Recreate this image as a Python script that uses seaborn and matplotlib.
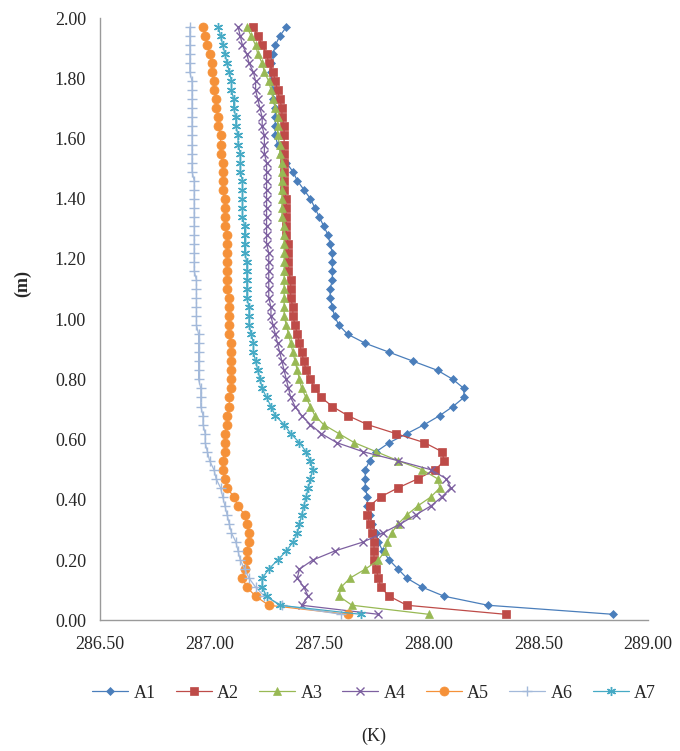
import matplotlib
matplotlib.use("Agg")
import matplotlib.pyplot as plt
import seaborn as sns

# Heights (m), shared by every profile
height = [0.02, 0.05, 0.08, 0.11, 0.14, 0.17, 0.20, 0.23, 0.26, 0.29,
          0.32, 0.35, 0.38, 0.41, 0.44, 0.47, 0.50, 0.53, 0.56, 0.59,
          0.62, 0.65, 0.68, 0.71, 0.74, 0.77, 0.80, 0.83, 0.86, 0.89,
          0.92, 0.95, 0.98, 1.01, 1.04, 1.07, 1.10, 1.13, 1.16, 1.19,
          1.22, 1.25, 1.28, 1.31, 1.34, 1.37, 1.40, 1.43, 1.46, 1.49,
          1.52, 1.55, 1.58, 1.61, 1.64, 1.67, 1.70, 1.73, 1.76, 1.79,
          1.82, 1.85, 1.88, 1.91, 1.94, 1.97]

# Temperature profiles (K)
a1 = [288.84, 288.27, 288.07, 287.97, 287.90, 287.86, 287.82, 287.79, 287.77, 287.76,
      287.74, 287.73, 287.72, 287.72, 287.71, 287.71, 287.71, 287.73, 287.76, 287.82,
      287.90, 287.98, 288.05, 288.11, 288.16, 288.16, 288.11, 288.04, 287.93, 287.82,
      287.71, 287.63, 287.59, 287.57, 287.56, 287.55, 287.55, 287.56, 287.56, 287.56,
      287.56, 287.55, 287.54, 287.52, 287.50, 287.48, 287.46, 287.43, 287.40, 287.38,
      287.35, 287.33, 287.31, 287.30, 287.30, 287.30, 287.30, 287.29, 287.29, 287.28,
      287.28, 287.28, 287.29, 287.30, 287.32, 287.35]
a2 = [288.35, 287.90, 287.82, 287.78, 287.77, 287.76, 287.75, 287.75, 287.75, 287.74,
      287.73, 287.72, 287.73, 287.78, 287.86, 287.95, 288.03, 288.07, 288.06, 287.98,
      287.85, 287.72, 287.63, 287.56, 287.51, 287.48, 287.46, 287.44, 287.43, 287.42,
      287.41, 287.40, 287.39, 287.38, 287.38, 287.37, 287.37, 287.37, 287.36, 287.36,
      287.36, 287.36, 287.35, 287.35, 287.35, 287.35, 287.35, 287.34, 287.34, 287.34,
      287.34, 287.34, 287.34, 287.34, 287.34, 287.33, 287.33, 287.32, 287.31, 287.30,
      287.29, 287.27, 287.26, 287.24, 287.22, 287.20]
a3 = [288.00, 287.65, 287.59, 287.60, 287.64, 287.71, 287.77, 287.80, 287.81, 287.83,
      287.86, 287.90, 287.95, 288.01, 288.05, 288.04, 287.97, 287.86, 287.76, 287.66,
      287.59, 287.52, 287.48, 287.46, 287.44, 287.42, 287.41, 287.40, 287.39, 287.38,
      287.37, 287.36, 287.35, 287.34, 287.34, 287.34, 287.34, 287.34, 287.34, 287.34,
      287.34, 287.34, 287.34, 287.34, 287.33, 287.33, 287.33, 287.33, 287.33, 287.33,
      287.33, 287.32, 287.32, 287.31, 287.31, 287.31, 287.30, 287.29, 287.28, 287.27,
      287.25, 287.24, 287.22, 287.21, 287.19, 287.17]
a4 = [287.77, 287.42, 287.45, 287.43, 287.40, 287.41, 287.47, 287.57, 287.70, 287.79,
      287.87, 287.94, 288.01, 288.06, 288.10, 288.08, 288.01, 287.86, 287.70, 287.58,
      287.51, 287.46, 287.42, 287.39, 287.37, 287.36, 287.35, 287.34, 287.33, 287.32,
      287.31, 287.30, 287.29, 287.28, 287.28, 287.27, 287.27, 287.27, 287.27, 287.27,
      287.27, 287.26, 287.26, 287.26, 287.26, 287.26, 287.26, 287.26, 287.26, 287.26,
      287.26, 287.25, 287.25, 287.25, 287.24, 287.24, 287.23, 287.22, 287.21, 287.21,
      287.20, 287.18, 287.17, 287.15, 287.14, 287.13]
a5 = [287.63, 287.27, 287.21, 287.17, 287.15, 287.16, 287.17, 287.17, 287.18, 287.18,
      287.17, 287.16, 287.13, 287.11, 287.08, 287.07, 287.06, 287.06, 287.07, 287.07,
      287.07, 287.08, 287.08, 287.09, 287.09, 287.10, 287.10, 287.10, 287.10, 287.10,
      287.10, 287.09, 287.09, 287.09, 287.09, 287.09, 287.08, 287.08, 287.08, 287.08,
      287.08, 287.08, 287.08, 287.07, 287.07, 287.07, 287.07, 287.06, 287.06, 287.06,
      287.06, 287.05, 287.05, 287.05, 287.04, 287.04, 287.03, 287.03, 287.02, 287.02,
      287.01, 287.01, 287.00, 286.99, 286.98, 286.97]
a6 = [287.60, 287.33, 287.25, 287.21, 287.18, 287.16, 287.14, 287.13, 287.12, 287.10,
      287.09, 287.08, 287.07, 287.06, 287.05, 287.03, 287.02, 287.00, 286.99, 286.98,
      286.98, 286.97, 286.97, 286.96, 286.96, 286.96, 286.95, 286.95, 286.95, 286.95,
      286.95, 286.95, 286.94, 286.94, 286.94, 286.94, 286.94, 286.94, 286.93, 286.93,
      286.93, 286.93, 286.93, 286.93, 286.93, 286.93, 286.93, 286.93, 286.93, 286.92,
      286.92, 286.92, 286.92, 286.92, 286.92, 286.92, 286.92, 286.92, 286.92, 286.92,
      286.91, 286.91, 286.91, 286.91, 286.91, 286.91]
a7 = [287.69, 287.32, 287.26, 287.24, 287.24, 287.27, 287.31, 287.35, 287.38, 287.40,
      287.41, 287.42, 287.43, 287.44, 287.45, 287.46, 287.47, 287.46, 287.44, 287.41,
      287.37, 287.34, 287.30, 287.28, 287.26, 287.24, 287.23, 287.22, 287.21, 287.20,
      287.20, 287.19, 287.18, 287.18, 287.18, 287.17, 287.17, 287.17, 287.17, 287.17,
      287.16, 287.16, 287.16, 287.16, 287.15, 287.15, 287.15, 287.15, 287.15, 287.14,
      287.14, 287.14, 287.13, 287.13, 287.12, 287.12, 287.11, 287.11, 287.10, 287.10,
      287.09, 287.08, 287.07, 287.06, 287.05, 287.04]

names = ["A1", "A2", "A3", "A4", "A5", "A6", "A7"]
profiles = [a1, a2, a3, a4, a5, a6, a7]
colors = ["#4A7EBB", "#BE4B48", "#98B954", "#7D60A0", "#F59139", "#A3B9DA", "#46AAC5"]
markers = ["D", "s", "^", "x", "o", "+", (6, 2, 0)]
sizes = [4, 5.5, 5.5, 5.5, 6.5, 7, 6.5]

sns.set_style("white")
plt.rcParams["font.family"] = ["Liberation Serif", "DejaVu Serif"]

fig = plt.figure(figsize=(6.8, 7.51), dpi=100)
ax = fig.add_axes([0.147, 0.174, 0.806, 0.802])

for name, temps, c, m, s in zip(names, profiles, colors, markers, sizes):
    filled = m in ["D", "s", "^", "o"]
    sns.lineplot(x=temps, y=height, ax=ax, sort=False, estimator=None,
                 color=c, marker=m, markersize=s, linewidth=0.9,
                 markeredgecolor=c, markeredgewidth=0.5 if filled else 1.0,
                 label=name)

ax.set_xlim(286.5, 289.0)
ax.set_ylim(0, 2.0)
ax.set_xticks([286.5, 287.0, 287.5, 288.0, 288.5, 289.0])
ax.set_yticks([0.0, 0.2, 0.4, 0.6, 0.8, 1.0, 1.2, 1.4, 1.6, 1.8, 2.0])
ax.xaxis.set_major_formatter(matplotlib.ticker.FormatStrFormatter("%.2f"))
ax.yaxis.set_major_formatter(matplotlib.ticker.FormatStrFormatter("%.2f"))
ax.tick_params(length=0, labelsize=13)
ax.tick_params(axis="x", pad=11)
ax.tick_params(axis="y", pad=10)

for side in ["top", "right"]:
    ax.spines[side].set_visible(False)
for side in ["left", "bottom"]:
    ax.spines[side].set_color("#9A9A9A")
    ax.spines[side].set_linewidth(1.0)

ax.set_xlabel("(K)", fontsize=13, labelpad=54)
ax.set_ylabel("(m)", fontsize=13, fontweight="bold")
ax.yaxis.set_label_coords(-0.125, 0.56)

ax.legend(loc="upper center", bbox_to_anchor=(0.5, -0.08), ncol=7, frameon=False,
          fontsize=13, handlelength=2.0, handletextpad=0.3, columnspacing=1.1)

fig.savefig("out.png", dpi=100)
